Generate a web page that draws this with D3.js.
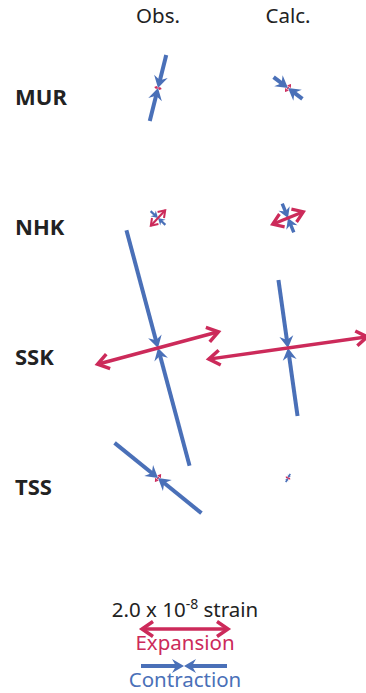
<!DOCTYPE html>
<html>
<head>
<meta charset="utf-8">
<script src="https://cdn.jsdelivr.net/npm/d3@7"></script>
<style>
  body { margin: 0; background: #fff; }
  svg { display: block; font-family: "Noto Sans", "DejaVu Sans", sans-serif; }
</style>
</head>
<body>
<div id="chart"></div>
<script>
// strain values in units of 1e-8, azimuth of the contraction axis in degrees from north
const stations = ["MUR", "NHK", "SSK", "TSS"];
const columns = ["Obs.", "Calc."];
const obsContraction = [1.58, 0.47, 5.67, 2.60];
const obsExpansion = [0.14, 0.49, 2.91, 0.19];
const obsAzimuth = [14, -47, -15, -51];
const calcContraction = [0.84, 0.72, 3.19, 0.22];
const calcExpansion = [0.19, 0.77, 3.72, 0.09];
const calcAzimuth = [-53, -22, -8, 28];
const legendStrain = 2.0;

const width = 366, height = 693;
const blue = "#4A70B8", red = "#CC2A5A";

const svg = d3.select("#chart").append("svg")
    .attr("width", width)
    .attr("height", height);

const x = d3.scalePoint().domain(columns).range([158, 288]);
const y = d3.scalePoint().domain(stations).range([88, 478]);
const strain = d3.scaleLinear().domain([0, 1]).range([0, 21.5]);      // half-length of one arrow

// flatten into one record per cross
const crosses = [];
stations.forEach((s, i) => {
    crosses.push({ st: s, col: "Obs.", c: obsContraction[i], e: obsExpansion[i], az: obsAzimuth[i] });
    crosses.push({ st: s, col: "Calc.", c: calcContraction[i], e: calcExpansion[i], az: calcAzimuth[i] });
});

function dir(az) {
    const r = az * Math.PI / 180;
    return [Math.sin(r), -Math.cos(r)];
}

// filled notched head, tip at (tx,ty), pointing along (ux,uy)
function stealth(tx, ty, ux, uy, k) {
    const L = 12 * k, W = 7 * k, N = 8 * k;
    const px = -uy, py = ux;
    return `M${tx},${ty}L${tx - ux * L + px * W},${ty - uy * L + py * W}` +
        `L${tx - ux * N},${ty - uy * N}` +
        `L${tx - ux * L - px * W},${ty - uy * L - py * W}Z`;
}

// open chevron head
function chevron(tx, ty, ux, uy, k) {
    const L = 11 * k, W = 7.5 * k;
    const px = -uy, py = ux;
    return `M${tx - ux * L + px * W},${ty - uy * L + py * W}L${tx},${ty}` +
        `L${tx - ux * L - px * W},${ty - uy * L - py * W}`;
}

function drawContraction(g, cx, cy, half, az) {
    const k = Math.min(1, half / 18);
    [1, -1].forEach(s => {
        const [ux, uy] = dir(az).map(v => v * s);
        const ex = cx + ux * half, ey = cy + uy * half;
        g.append("line")
            .attr("x1", ex).attr("y1", ey)
            .attr("x2", cx + ux * 6 * k).attr("y2", cy + uy * 6 * k)
            .attr("stroke", blue).attr("stroke-width", 4 * Math.max(k, 0.4));
        g.append("path")
            .attr("d", stealth(cx, cy, -ux, -uy, k))
            .attr("fill", blue);
    });
}

function drawExpansion(g, cx, cy, half, az) {
    const k = Math.min(1, half / 18);
    const sw = 3.5 * Math.max(k, 0.3);
    const [ux, uy] = dir(az);
    g.append("line")
        .attr("x1", cx - ux * half).attr("y1", cy - uy * half)
        .attr("x2", cx + ux * half).attr("y2", cy + uy * half)
        .attr("stroke", red).attr("stroke-width", sw);
    [1, -1].forEach(s => {
        g.append("path")
            .attr("d", chevron(cx + ux * s * half, cy + uy * s * half, ux * s, uy * s, k))
            .attr("fill", "none").attr("stroke", red).attr("stroke-width", sw)
            .attr("stroke-linejoin", "miter");
    });
}

// column headers
svg.selectAll(".col")
    .data(columns)
    .enter().append("text")
    .attr("x", d => x(d))
    .attr("y", 23)
    .attr("text-anchor", "middle")
    .attr("font-size", 20.5)
    .attr("fill", "#222")
    .text(d => d);

// station labels
svg.selectAll(".st")
    .data(stations)
    .enter().append("text")
    .attr("x", 15)
    .attr("y", d => y(d) + 17)
    .attr("font-size", 22)
    .attr("font-weight", "bold")
    .attr("fill", "#222")
    .text(d => d);

const arrows = svg.append("g");
crosses.forEach(d => {
    const g = arrows.append("g");
    drawContraction(g, x(d.col), y(d.st), strain(d.c), d.az);
    drawExpansion(g, x(d.col), y(d.st), strain(d.e), d.az + 90);
});

// legend
const lx = 185;
const lt = svg.append("text")
    .attr("x", lx).attr("y", 617)
    .attr("text-anchor", "middle")
    .attr("font-size", 20.5)
    .attr("fill", "#222");
lt.append("tspan").text(legendStrain.toFixed(1) + " x 10");
lt.append("tspan").attr("dy", -8).attr("font-size", 14).text("-8");
lt.append("tspan").attr("dy", 8).text(" strain");

const leg = svg.append("g");
drawExpansion(leg, lx, 629, strain(legendStrain), 90);
drawContraction(leg, lx - 1, 666, strain(legendStrain), 90);

svg.append("text")
    .attr("x", lx).attr("y", 650)
    .attr("text-anchor", "middle")
    .attr("font-size", 20.5)
    .attr("fill", red)
    .text("Expansion");

svg.append("text")
    .attr("x", lx).attr("y", 687)
    .attr("text-anchor", "middle")
    .attr("font-size", 20.5)
    .attr("fill", blue)
    .text("Contraction");
</script>
</body>
</html>
